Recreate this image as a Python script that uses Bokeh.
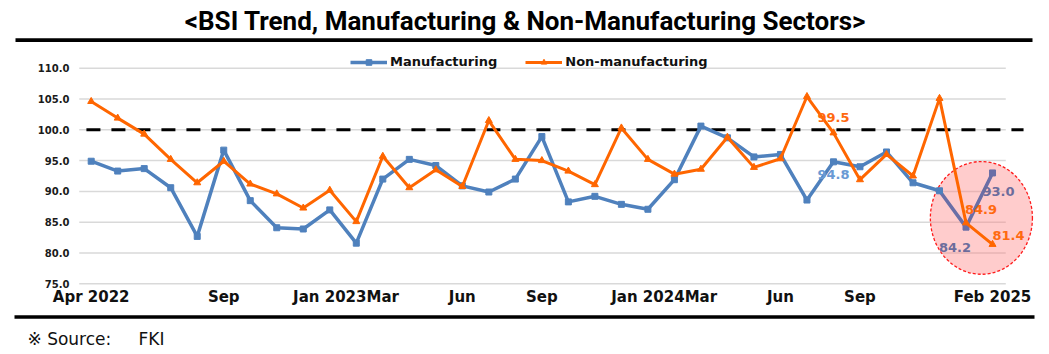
from bokeh.plotting import figure
from bokeh.models import ColumnDataSource, FixedTicker, Legend, LegendItem, Range1d
from bokeh.layouts import column
from bokeh.embed import file_html
from bokeh.resources import INLINE
from bokeh.core.properties import value

# ---------------- data ----------------
months = ["Apr 2022", "May 2022", "Jun 2022", "Jul 2022", "Aug 2022", "Sep 2022", "Oct 2022",
          "Nov 2022", "Dec 2022", "Jan 2023", "Feb 2023", "Mar 2023", "Apr 2023", "May 2023",
          "Jun 2023", "Jul 2023", "Aug 2023", "Sep 2023", "Oct 2023", "Nov 2023", "Dec 2023",
          "Jan 2024", "Feb 2024", "Mar 2024", "Apr 2024", "May 2024", "Jun 2024", "Jul 2024",
          "Aug 2024", "Sep 2024", "Oct 2024", "Nov 2024", "Dec 2024", "Jan 2025", "Feb 2025"]

manufacturing = [94.9, 93.3, 93.7, 90.6, 82.7, 96.7, 88.5, 84.1, 83.9, 87.0, 81.6, 92.0,
                 95.2, 94.2, 90.9, 89.9, 92.0, 98.9, 88.3, 89.2, 87.9, 87.1, 91.9, 100.6,
                 98.7, 95.6, 96.0, 88.6, 94.8, 94.0, 96.4, 91.4, 90.1, 84.2, 93.0]

non_manufacturing = [104.6, 101.9, 99.3, 95.2, 91.4, 94.9, 91.2, 89.6, 87.3, 90.2, 85.1, 95.7,
                     90.6, 93.5, 90.8, 101.5, 95.2, 95.0, 93.3, 91.1, 100.3, 95.2, 92.8, 93.6,
                     98.8, 93.9, 95.3, 105.4, 99.5, 91.9, 96.0, 92.5, 105.1, 84.9, 81.4]

tick_months = ["Apr 2022", "Sep 2022", "Jan 2023", "Mar 2023", "Jun 2023", "Sep 2023",
               "Jan 2024", "Mar 2024", "Jun 2024", "Sep 2024", "Feb 2025"]
tick_labels = ["Apr 2022", "Sep", "Jan 2023", "Mar", "Jun", "Sep",
               "Jan 2024", "Mar", "Jun", "Sep", "Feb 2025"]

y_ticks = [75, 80, 85, 90, 95, 100, 105, 110]
reference_level = 100

series_names = ["Manufacturing", "Non-manufacturing"]
title_text = "<BSI Trend, Manufacturing & Non-Manufacturing Sectors>"
source_parts = ["\u203b Source:", "FKI"]

# labelled points: (series, month)
annotated = [("Non-manufacturing", "Aug 2024"), ("Manufacturing", "Aug 2024"),
             ("Non-manufacturing", "Jan 2025"), ("Manufacturing", "Jan 2025"),
             ("Manufacturing", "Feb 2025"), ("Non-manufacturing", "Feb 2025")]

# ---------------- styles ----------------
BLUE = "#4f81bd"
BLUE_HL = "#6a6ea6"
ORANGE = "#ff6600"
label_style = {
    ("Non-manufacturing", "Aug 2024"): (0, -15, "#ff6a10"),
    ("Manufacturing", "Aug 2024"): (0, 13, "#6a9ad4"),
    ("Non-manufacturing", "Jan 2025"): (15, -13, "#ff6a10"),
    ("Manufacturing", "Jan 2025"): (-11, 20, "#6c6c9c"),
    ("Manufacturing", "Feb 2025"): (6, 19, "#6c6c9c"),
    ("Non-manufacturing", "Feb 2025"): (16, -9, "#ff6a10"),
}

xs = list(range(len(months)))
values = {"Manufacturing": manufacturing, "Non-manufacturing": non_manufacturing}


def bare(fig):
    fig.outline_line_color = None
    fig.grid.visible = False
    return fig


# ---------------- top (title) ----------------
top = bare(figure(width=1049, height=42, x_range=Range1d(0, 1049), y_range=Range1d(0, 42),
                  x_axis_location=None, y_axis_location=None, min_border=0,
                  toolbar_location=None, output_backend="svg"))
top.text(x=[525], y=[22], text=[title_text], text_font=value("Roboto"),
         text_font_style="bold", text_font_size="26px", text_align="center",
         text_baseline="alphabetic", text_color="#000000")
top.segment(x0=[15], y0=[2.3], x1=[1032], y1=[2.3], line_width=4, line_color="#000000")

# ---------------- main chart ----------------
X0, X1 = -3.421, 36.149      # full-width frame
Y0, Y1 = 70.02, 114.17
p = bare(figure(width=1049, height=272, x_range=Range1d(X0, X1), y_range=Range1d(Y0, Y1),
                min_border=0, toolbar_location=None, output_backend="svg"))

# y axis (drawn inside the full-width frame)
p.yaxis.fixed_location = -0.479
p.yaxis.ticker = FixedTicker(ticks=y_ticks)
p.yaxis.major_label_overrides = {t: f"{t:.1f}" for t in y_ticks}
p.yaxis.axis_line_color = None
p.yaxis.major_tick_line_color = None
p.yaxis.minor_tick_line_color = None
p.yaxis.major_tick_out = 0
p.yaxis.major_tick_in = 0
p.yaxis.major_label_standoff = 9
p.yaxis.major_label_text_font = "DejaVu Sans"
p.yaxis.major_label_text_font_style = "bold"
p.yaxis.major_label_text_font_size = "10px"
p.yaxis.major_label_text_color = "#1a1a1a"

# x axis
tick_pos = [months.index(m) for m in tick_months]
p.xaxis.fixed_location = y_ticks[0]
p.xaxis.ticker = FixedTicker(ticks=tick_pos)
p.xaxis.major_label_overrides = dict(zip(tick_pos, tick_labels))
p.xaxis.axis_line_color = None
p.xaxis.major_tick_line_color = None
p.xaxis.minor_tick_line_color = None
p.xaxis.major_tick_out = 0
p.xaxis.major_tick_in = 0
p.xaxis.major_label_standoff = 4
p.xaxis.major_label_text_font = "DejaVu Sans"
p.xaxis.major_label_text_font_style = "bold"
p.xaxis.major_label_text_font_size = "15px"
p.xaxis.major_label_text_color = "#111111"

# grid lines
p.segment(x0=[-0.45] * len(y_ticks), x1=[34.5] * len(y_ticks), y0=y_ticks, y1=y_ticks,
          line_color="#d9d9d9", line_width=1.5)
# reference line at 100
p.segment(x0=[-0.18], x1=[35.17], y0=[reference_level], y1=[reference_level],
          line_color="#000000", line_width=3, line_dash="14 11")

# highlight ellipse around the last two months
last = len(months) - 1
p.ellipse(x=[last - 0.42], y=[85.7], width=[3.85], height=[18.3],
          fill_color="#ff8080", fill_alpha=0.4, line_color="#ff1a1a",
          line_width=1.3, line_dash="3 2")

# manufacturing
hl_start = last - 2
m_line = p.line(xs[:hl_start + 1], manufacturing[:hl_start + 1], line_color=BLUE, line_width=3.5)
p.line(xs[hl_start:], manufacturing[hl_start:], line_color=BLUE_HL, line_width=3.5)
m_marks = p.scatter(xs[:hl_start + 1], manufacturing[:hl_start + 1], marker="square", size=6,
                    fill_color=BLUE, line_color=BLUE)
p.scatter(xs[hl_start + 1:], manufacturing[hl_start + 1:], marker="square", size=6,
          fill_color=BLUE_HL, line_color=BLUE_HL)

# non-manufacturing
n_line = p.line(xs, non_manufacturing, line_color=ORANGE, line_width=3)
n_marks = p.scatter(xs, non_manufacturing, marker="triangle", size=7,
                    fill_color=ORANGE, line_color=ORANGE)

# data labels
lab = dict(x=[], y=[], text=[], dx=[], dy=[], color=[])
for s, m in annotated:
    i = months.index(m)
    v = values[s][i]
    dx, dy, c = label_style[(s, m)]
    lab["x"].append(i)
    lab["y"].append(v)
    lab["text"].append(f"{v:.1f}")
    lab["dx"].append(dx)
    lab["dy"].append(dy)
    lab["color"].append(c)
p.text(x="x", y="y", text="text", x_offset="dx", y_offset="dy", text_color="color",
       source=ColumnDataSource(lab), text_font=value("DejaVu Sans"), text_font_style="bold",
       text_font_size="13px", text_align="center", text_baseline="middle")

# legend
legend = Legend(items=[LegendItem(label=series_names[0], renderers=[m_line, m_marks]),
                       LegendItem(label=series_names[1], renderers=[n_line, n_marks])],
                location=(350, 245), orientation="horizontal")
legend.background_fill_alpha = 0
legend.border_line_color = None
legend.padding = 0
legend.margin = 0
legend.spacing = 28
legend.glyph_width = 37
legend.glyph_height = 14
legend.label_standoff = 3
legend.label_height = 14
legend.label_text_font = "DejaVu Sans"
legend.label_text_font_style = "bold"
legend.label_text_font_size = "13px"
legend.label_text_color = "#111111"
p.add_layout(legend)

# ---------------- bottom (source) ----------------
bot = bare(figure(width=1049, height=40, x_range=Range1d(0, 1049), y_range=Range1d(0, 40),
                  x_axis_location=None, y_axis_location=None, min_border=0,
                  toolbar_location=None, output_backend="svg"))
bot.segment(x0=[14], y0=[37.4], x1=[1034], y1=[37.4], line_width=3.5, line_color="#000000")
bot.text(x=[27, 138], y=[15.5, 15.5], text=source_parts, text_font=value("DejaVu Sans"),
         text_font_size="17px", text_align="left", text_baseline="alphabetic",
         text_color="#111111")

layout = column(top, p, bot, spacing=0)
open("out.html", "w").write(file_html(layout, INLINE))
